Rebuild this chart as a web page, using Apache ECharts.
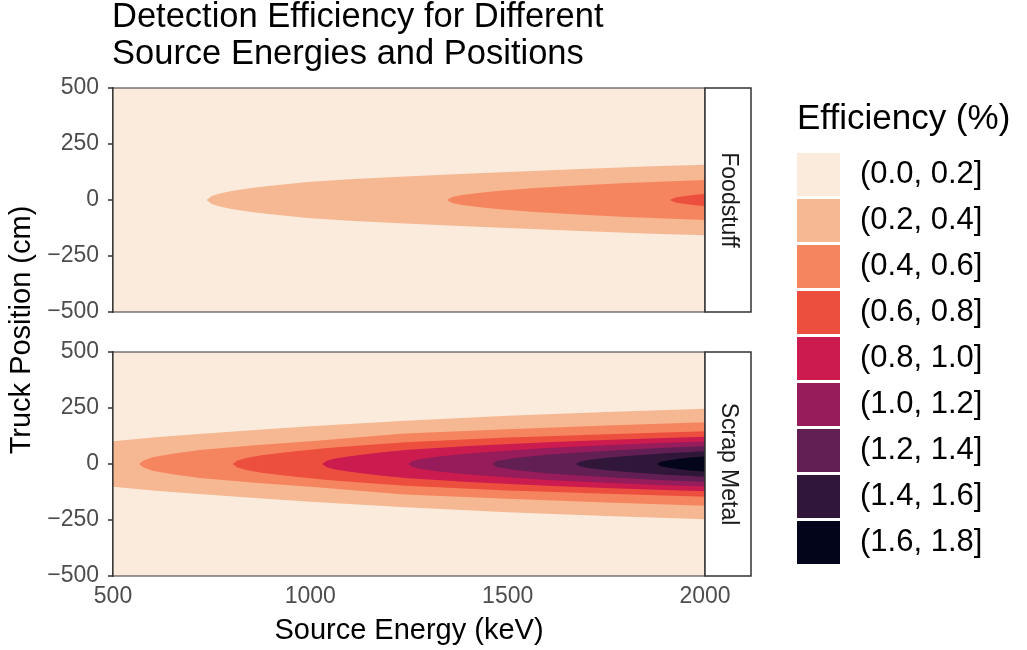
<!DOCTYPE html>
<html>
<head>
    <meta charset="utf-8">
    <title>Detection Efficiency</title>
    <script src="https://cdn.jsdelivr.net/npm/echarts@6/dist/echarts.min.js"></script>
    <style>
      body { margin: 0; background: #fff; }
    </style>
</head>
<body>
	<div id="main" style="width: 1027px;height:650px;"></div>
	<script type="text/javascript">
	  // legend classes and their fill colours (rocket, light to dark)
	  var levels = ['(0.0, 0.2]', '(0.2, 0.4]', '(0.4, 0.6]', '(0.6, 0.8]', '(0.8, 1.0]',
	                '(1.0, 1.2]', '(1.2, 1.4]', '(1.4, 1.6]', '(1.6, 1.8]'];
	  var colors = ['#FAEBDD', '#F6B893', '#F5855F', '#ED4F3E', '#CB1B4F',
	                '#961C5B', '#611F53', '#30173A', '#03051A'];
	  var panels = ['Foodstuff', 'Scrap Metal'];
	  var energyTicks = [500, 1000, 1500, 2000];
	  var positionTicks = [-500, -250, 0, 250, 500];

	  // whole measured field = lowest class
	  var field = [[500, 500], [2000, 500]];

	  // upper half of each contour band: [energy keV, half width cm] (mirrored about 0)
	  var food02 = [[737, 0], [750, 18], [770, 29], [800, 40], [850, 54], [900, 64], [1000, 81],
	                [1100, 93], [1200, 102], [1350, 114], [1500, 125], [1700, 139], [1850, 149], [2000, 157]];
	  var food04 = [[1346, 0], [1360, 13], [1380, 21], [1420, 30], [1480, 41], [1560, 52],
	                [1666, 64], [1800, 76], [1900, 83], [2000, 89]];
	  var food06 = [[1911, 0], [1925, 11], [1950, 18], [1975, 23], [2000, 27]];

	  var scrap02 = [[500, 0], [500, 102], [600, 118], [700, 132], [860, 152], [1000, 168],
	                 [1240, 193], [1500, 215], [1750, 232], [2000, 247]];
	  var scrap04 = [[566, 0], [577, 16], [600, 30], [650, 46], [720, 62], [860, 84], [1000, 102],
	                 [1240, 136], [1500, 155], [1750, 172], [2000, 186]];
	  var scrap06 = [[803, 0], [815, 16], [840, 28], [880, 40], [950, 55], [1050, 72],
	                 [1240, 97], [1500, 118], [1750, 133], [2000, 146]];
	  var scrap08 = [[1030, 0], [1042, 14], [1060, 23], [1100, 35], [1160, 48], [1240, 62],
	                 [1400, 80], [1600, 97], [1800, 111], [2000, 122]];
	  var scrap10 = [[1248, 0], [1260, 13], [1280, 22], [1320, 32], [1380, 43], [1461, 55],
	                 [1600, 71], [1750, 84], [1900, 95], [2000, 101]];
	  var scrap12 = [[1461, 0], [1472, 12], [1490, 19], [1530, 29], [1600, 41], [1700, 54],
	                 [1800, 64], [1900, 73], [2000, 80]];
	  var scrap14 = [[1672, 0], [1685, 11], [1705, 18], [1750, 28], [1820, 38], [1900, 48], [2000, 57]];
	  var scrap16 = [[1878, 0], [1890, 11], [1910, 17], [1940, 24], [1970, 30], [2000, 34]];

	  var bands = [
	    [field, food02, food04, food06],
	    [field, scrap02, scrap04, scrap06, scrap08, scrap10, scrap12, scrap14, scrap16]
	  ];

	  var FONT = 'Liberation Sans, Arial, sans-serif';
	  var GL = 113, GW = 592, GH = 224, GT = [88, 352];

	  function bandSeries(level, bound, panel) {
		return {
		  type: 'custom',
		  name: levels[level],
		  xAxisIndex: panel,
		  yAxisIndex: panel,
		  clip: true,
		  silent: true,
		  itemStyle: { color: colors[level] },
		  data: [[bound[0][0], 0]],
		  renderItem: function (params, api) {
			var upper = bound.map(function (p) { return api.coord([p[0], p[1]]); });
			var lower = bound.slice().reverse().map(function (p) { return api.coord([p[0], -p[1]]); });
			return {
			  type: 'polygon',
			  shape: { points: upper.concat(lower) },
			  style: { fill: colors[level], stroke: null }
			};
		  }
		};
	  }

	  var series = [];
	  bands.forEach(function (list, panel) {
		list.forEach(function (b, lvl) { series.push(bandSeries(lvl, b, panel)); });
	  });

	  var grids = [], xAxes = [], yAxes = [];
	  var graphics = [];
	  GT.forEach(function (top, i) {
		grids.push({ left: GL, top: top, width: GW, height: GH, containLabel: false });
		xAxes.push({
		  gridIndex: i, type: 'value', min: energyTicks[0], max: energyTicks[3], interval: 500,
		  axisLine: { show: true, lineStyle: { color: '#333', width: 1.5 } },
		  axisTick: { show: i === 1, length: 5, lineStyle: { color: '#333', width: 1.5 } },
		  axisLabel: { show: i === 1, margin: 9, fontSize: 23, color: '#4D4D4D', fontFamily: FONT,
			formatter: function (v) { return String(v); } },
		  splitLine: { show: false }
		});
		yAxes.push({
		  gridIndex: i, type: 'value', min: positionTicks[0], max: positionTicks[4], interval: 250,
		  axisLine: { show: true, onZero: false, lineStyle: { color: '#333', width: 1.8 } },
		  axisTick: { show: true, length: 5, lineStyle: { color: '#333', width: 1.5 } },
		  axisLabel: {
			margin: 14, fontSize: 23, color: '#4D4D4D', fontFamily: FONT,
			formatter: function (v) { return v < 0 ? '\u2212' + Math.abs(v) : String(v); }
		  },
		  splitLine: { show: false }
		});
		// panel border
		graphics.push({
		  type: 'rect', z: 100, silent: true,
		  shape: { x: GL, y: top, width: GW, height: GH },
		  style: { fill: null, stroke: '#333', lineWidth: 1.2 }
		});
		// facet strip
		graphics.push({
		  type: 'rect', z: 100, silent: true,
		  shape: { x: GL + GW, y: top, width: 46, height: GH },
		  style: { fill: '#fff', stroke: '#333', lineWidth: 1.5 }
		});
		graphics.push({
		  type: 'text', z: 101, silent: true,
		  x: GL + GW + 23, y: top + GH / 2, rotation: -Math.PI / 2,
		  style: { text: panels[i], fontSize: 23, fill: '#1A1A1A', fontFamily: FONT,
				   align: 'center', verticalAlign: 'middle' }
		});
	  });

	  graphics.push({
		type: 'text', silent: true, x: 22, y: 330, rotation: Math.PI / 2,
		style: { text: 'Truck Position (cm)', fontSize: 29, fill: '#000', fontFamily: FONT,
				 align: 'center', verticalAlign: 'middle' }
	  });
	  graphics.push({
		type: 'text', silent: true, x: GL + GW / 2, y: 631,
		style: { text: 'Source Energy (keV)', fontSize: 29, fill: '#000', fontFamily: FONT,
				 align: 'center', verticalAlign: 'middle' }
	  });
	  graphics.push({
		type: 'text', silent: true, x: 797, y: 119,
		style: { text: 'Efficiency (%)', fontSize: 35, fill: '#000', fontFamily: FONT,
				 align: 'left', verticalAlign: 'middle' }
	  });

	  var myChart = echarts.init(document.getElementById('main'));
	  var option = {
		animation: false,
		backgroundColor: '#fff',
		title: {
		  text: 'Detection Efficiency for Different\nSource Energies and Positions',
		  left: 112, top: -1, padding: 0,
		  textStyle: { fontSize: 34.5, fontWeight: 'normal', color: '#000', lineHeight: 37, fontFamily: FONT }
		},
		legend: {
		  data: levels,
		  orient: 'vertical',
		  left: 797, top: 153,
		  padding: 0,
		  itemWidth: 43, itemHeight: 43, itemGap: 3,
		  icon: 'rect',
		  selectedMode: false,
		  textStyle: { fontSize: 31, color: '#000', fontFamily: FONT, padding: [4, 0, 0, 15] }
		},
		grid: grids,
		xAxis: xAxes,
		yAxis: yAxes,
		graphic: graphics,
		series: series
	  };
	  myChart.setOption(option);
	</script>
</body>
</html>
